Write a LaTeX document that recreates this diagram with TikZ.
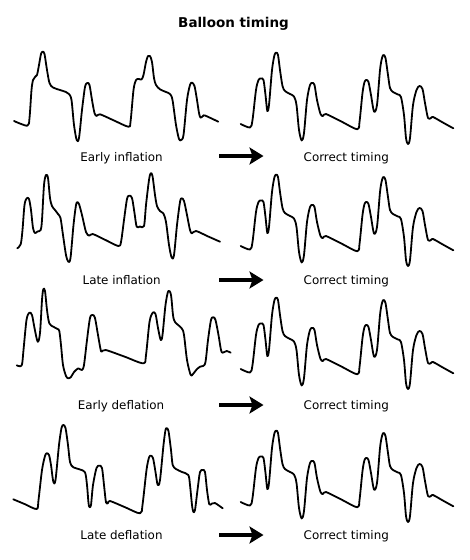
\documentclass[tikz,border=0pt]{standalone}
\usepackage{fontspec}
\setmainfont{DejaVu Sans}
\usetikzlibrary{arrows.meta}
\tikzset{
  wave/.style={line width=1.8pt, line join=round, line cap=round},
  lbl/.style={anchor=base, inner sep=0pt, font=\fontsize{11.9}{14}\selectfont},
  ttl/.style={anchor=base, inner sep=0pt, font=\fontsize{13.5}{16}\selectfont\bfseries},
  bigarrow/.style={line width=4pt, -{Stealth[length=14pt, width=17pt, inset=3pt]}}
}
\newcommand{\correctwave}{plot[smooth,tension=0.5] coordinates{
(240.7,124) (250,127.5) (252.5,120) (256,90) (258.5,80) (261,78.5) (263.5,80) (265.5,95) (267.3,111) (269,105) (272,70) (274.5,55) (276.3,52.7) (278,55) (280,70) (282.5,86) (285,91) (290,94) (294,96.5) (296.5,105) (299,130) (301.7,140.5) (304,133) (307,100) (310,85) (312.3,83) (314.5,85) (317,100) (320.5,114) (323,116) (326,114) (341.5,121.6) (357.3,129.3) (359.5,122) (362.5,93) (364.5,82) (366.3,80) (368.5,82) (371,95) (374,111.5) (377,105) (380,70) (382,58) (383.5,55) (385.5,58) (388,75) (390,88) (393,92) (398,94.5) (401,97) (404,115) (406,138) (408,144) (410,138) (413,105) (416.5,90) (419.5,86) (422.5,89) (425,103) (428,118) (431,118) (433,117) (443,122.6) (453.3,128.3)}}
\begin{document}
\begin{tikzpicture}[x=1pt,y=-1pt]
\useasboundingbox (0,0) rectangle (469,560);
\node[ttl] (title) at (233.5,27.5) {Balloon timing};

% ---------- Row 1: Early inflation
\draw[wave] plot[smooth,tension=0.5] coordinates{
(14,121) (27.3,125.7) (29.5,118) (31.5,90) (33,80) (35,77) (37,75) (39,65) (41,54) (42.7,51.7) (44.5,54) (47,70) (49.5,83) (53,87.5) (60,90) (66,92) (69,94) (71.5,100) (74,125) (76.7,140) (79,138) (82,110) (85,87) (87.3,83) (89.5,85) (92,100) (94.5,113) (96.7,116) (100,114.3) (114,120.5) (128.3,126.7) (130.5,122) (133.5,90) (136,80) (139,79) (141.5,79.5) (143.5,75) (146,62) (148,56) (150,56) (152,62) (154,78) (156,85) (160,89.3) (166,92) (170,94) (172.5,100) (176,125) (179,139) (181,140) (183.5,135) (187,100) (190,85) (192,82.7) (194.5,86) (197,100) (199,113) (200.5,117.7) (203,116) (205,115.5) (218.3,121.7)};
\draw[wave] \correctwave;
\node[lbl] (l1) at (121.5,161) {Early inflation};
\node[lbl] (r1) at (346.3,161) {Correct timing};
\coordinate (a1s) at (219,156);
\coordinate (a1e) at (263.5,156);
\draw[bigarrow] (a1s) -- (a1e);

% ---------- Row 2: Late inflation
\draw[wave] plot[smooth,tension=0.5] coordinates{
(17.3,248.3) (20.7,244.3) (22.5,230) (24.5,205) (26.7,198.3) (29,199) (31,210) (33,228) (35,233) (37.5,231.5) (40.7,230) (42,220) (44,185) (46,175) (48,178) (50,198) (52,206) (55,210) (58,214) (60.5,218) (63,235) (66,255) (68.3,261.7) (70.5,258) (73.5,225) (76,205) (77.3,202.3) (79,204) (82,215) (86,232) (89.3,235.7) (92.7,234) (105.5,240) (118.3,246) (121,242) (124,220) (127,199) (129.3,195.7) (132,198) (134.5,213) (136.7,226.7) (140,226.5) (144,226) (146,205) (149,180) (150.7,173.3) (152.5,176) (155,195) (157,206) (160,211) (163.3,213.3) (166,222) (169,245) (171.7,257.7) (174,255) (177,225) (180,202) (181.7,198.3) (184,201) (187,215) (190,230) (192,233.3) (196,231) (208,236.4) (220,241.7)};
\begin{scope}[shift={(0,122)}]
\draw[wave] \correctwave;
\end{scope}
\node[lbl] (l2) at (121.7,284) {Late inflation};
\node[lbl] (r2) at (346.3,284) {Correct timing};
\coordinate (a2s) at (219,280);
\coordinate (a2e) at (263.5,280);
\draw[bigarrow] (a2s) -- (a2e);

% ---------- Row 3: Early deflation
\draw[wave] plot[smooth,tension=0.5] coordinates{
(16.7,365.3) (21.7,365.3) (23.5,350) (26.5,320) (29.3,312.7) (32,315) (34.5,328) (37.7,341.7) (40,333) (42,300) (43.3,289.3) (45,291) (47,310) (49.3,323.3) (53.3,326.7) (57.5,329) (59.3,331) (61,345) (63,365) (66,376) (68.3,378.3) (71,377) (74,372) (78.3,368.3) (80.5,369.5) (82,370) (84,365) (87,340) (90,318) (92.7,315) (95,318) (98,335) (100.5,349) (101.7,351.7) (105.7,350) (124.5,356.6) (143.3,363.3) (146,355) (149.5,322) (152.7,312.7) (155.5,314) (158,328) (160.7,340) (162.5,335) (165.5,305) (168.3,291) (171,295) (173,315) (175,322) (181.7,328.3) (184,335) (187,360) (190.7,375) (193,374) (197,369) (200,366.7) (203,366) (205.5,362) (208,340) (211,320) (213.3,317.3) (215.5,320) (218.5,335) (221,350) (222.7,352.7) (226.7,351) (230.7,352.7)};
\begin{scope}[shift={(0,245)}]
\draw[wave] \correctwave;
\end{scope}
\node[lbl] (l3) at (121,409) {Early deflation};
\node[lbl] (r3) at (346.3,409) {Correct timing};
\coordinate (a3s) at (219,405);
\coordinate (a3e) at (263.5,405);
\draw[bigarrow] (a3s) -- (a3e);

% ---------- Row 4: Late deflation
\draw[wave] plot[smooth,tension=0.5] coordinates{
(13.3,499.3) (25,504.2) (36.7,509) (38.5,500) (42,470) (45,456) (46.7,453.3) (49,455) (51,465) (53.3,481.7) (55.5,480) (59,445) (61.5,428) (63.3,425) (65.5,428) (68,445) (70,462) (73,467) (80,469.5) (85,472.3) (87,485) (88.5,503) (89.5,507) (91,505) (93,485) (96.5,468) (99.3,465.7) (102,468) (104,485) (106,502.3) (108,503) (110,501) (125,507.2) (140,513.3) (142.5,505) (146.5,470) (149,457.5) (150.7,455.7) (153,458) (155.5,472) (157.7,485) (160,480) (163.5,445) (165.5,430) (166.7,428.3) (168.5,431) (171,450) (172.7,465) (176,469) (182,472) (188.3,475) (190,485) (192,505) (193.3,511.7) (195,510) (197.5,490) (200,472) (202.7,470) (205,472) (207,490) (209.3,504.3) (212,503.5) (215,503) (222.7,508.3)};
\begin{scope}[shift={(0,378)}]
\draw[wave] \correctwave;
\end{scope}
\node[lbl] (l4) at (121.5,539) {Late deflation};
\node[lbl] (r4) at (346.3,539) {Correct timing};
\coordinate (a4s) at (219,535);
\coordinate (a4e) at (263.5,535);
\draw[bigarrow] (a4s) -- (a4e);
\end{tikzpicture}
\end{document}
